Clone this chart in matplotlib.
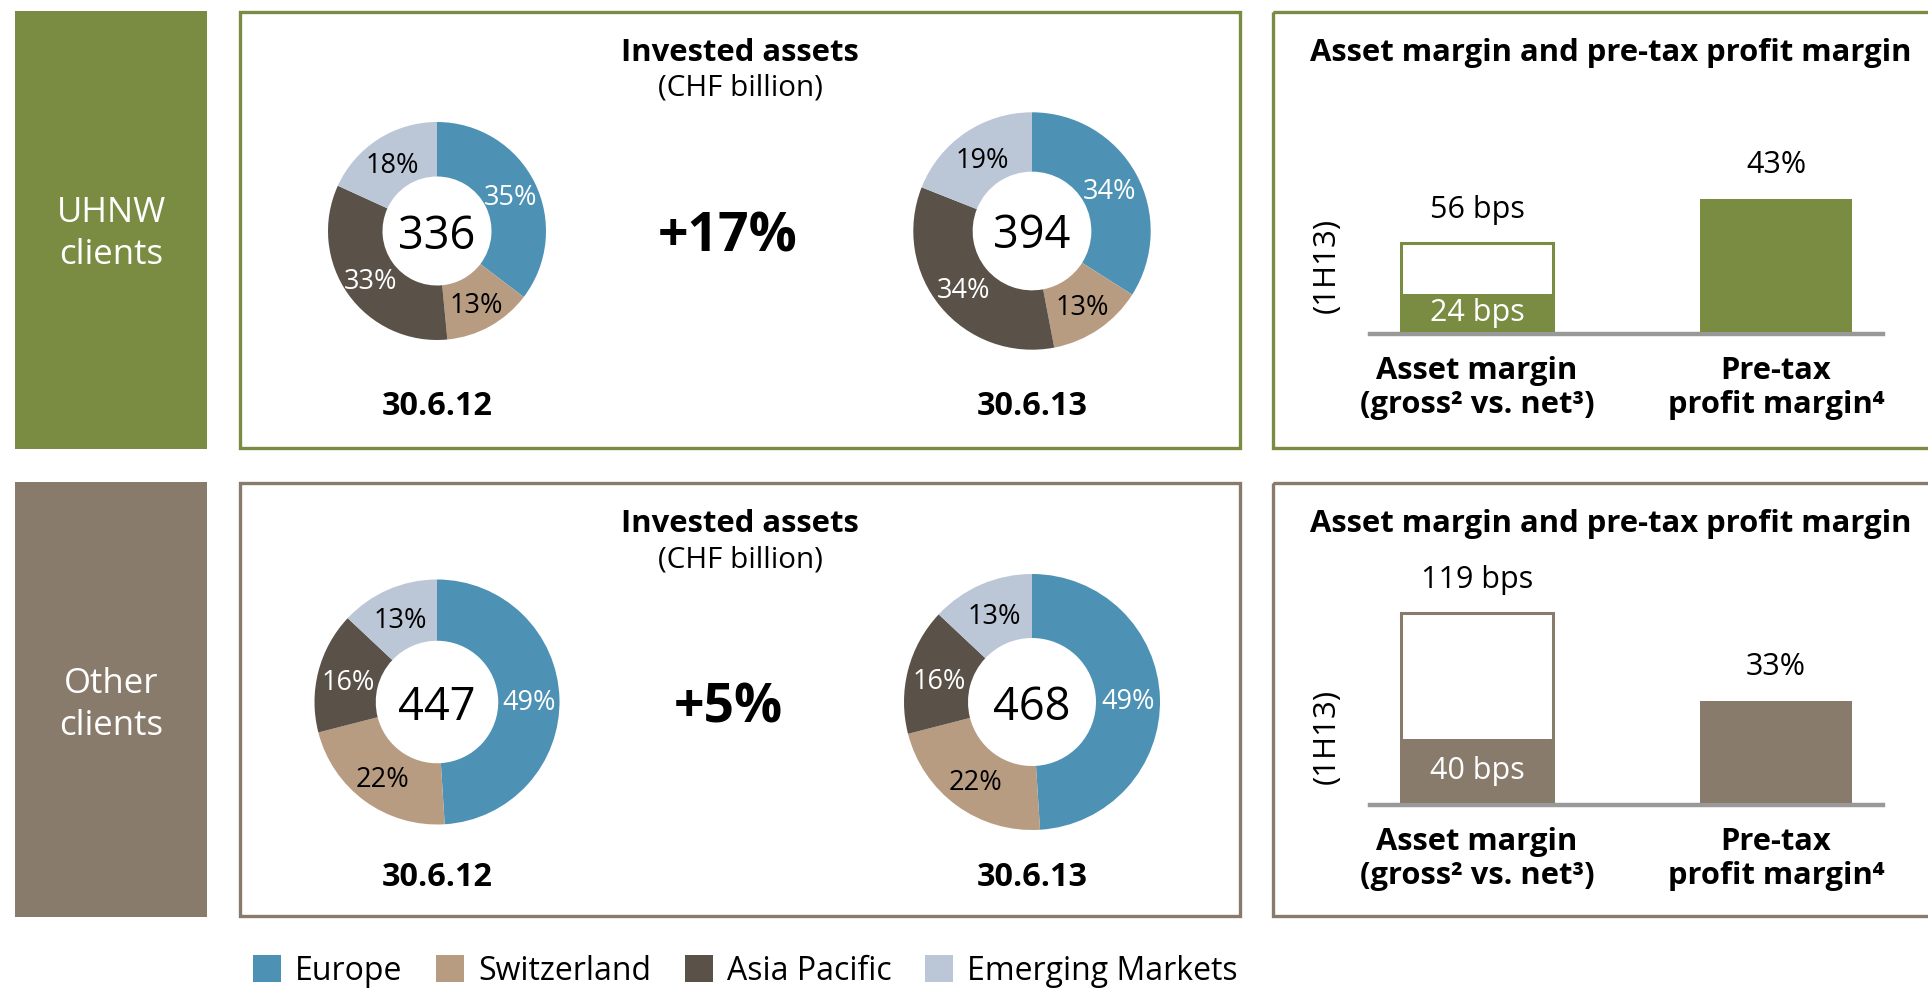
import matplotlib.pyplot as plt
from matplotlib.patches import Rectangle, Patch

plt.rcParams['font.family'] = ['Open Sans', 'DejaVu Sans']

# --- data -------------------------------------------------------------
regions = ['Europe', 'Switzerland', 'Asia Pacific', 'Emerging Markets']
segments = ['UHNW\nclients', 'Other\nclients']
dates = ['30.6.12', '30.6.13']
invested_totals = [[336, 394], [447, 468]]          # CHF billion
region_shares = [[[35, 13, 33, 18], [34, 13, 34, 19]],
                 [[49, 22, 16, 13], [49, 22, 16, 13]]]
growth = ['+17%', '+5%']
gross_margin_bps = [56, 119]
net_margin_bps = [24, 40]
pretax_margin_pct = [43, 33]
bar_labels = [['Asset margin', '(gross² vs. net³)'], ['Pre-tax', 'profit margin⁴']]
period = '(1H13)'

# --- style ------------------------------------------------------------
region_colors = ['#4d92b5', '#b89c82', '#5a5249', '#bbc6d6']
pct_colors = ['white', 'black', 'white', 'black']
segment_colors = ['#7a8c42', '#897b6c']
W, H = 1928, 988

fig = plt.figure(figsize=(W / 100, H / 100), dpi=100)
bg = fig.add_axes([0, 0, 1, 1])
bg.set_xlim(0, W)
bg.set_ylim(H, 0)
bg.axis('off')


def px_axes(x0, y0, w, h):
    # pixel box with top-left origin -> figure axes
    return fig.add_axes([x0 / W, 1 - (y0 + h) / H, w / W, h / H])


row_top = [12, 483]
row_bottom = [448, 916]
donut_x = [437, 1032]
donut_r = [[109, 118.7], [122.5, 128]]

for i, seg in enumerate(segments):
    y0, y1 = row_top[i], row_bottom[i]
    c = segment_colors[i]

    # segment label box
    bg.add_patch(Rectangle((15, y0 - 1), 192, y1 - y0 + 2, facecolor=c, edgecolor='none'))
    l1, l2 = seg.split('\n')
    bg.text(111, y0 + 210, l1, ha='center', va='baseline', fontsize=25, color='white')
    bg.text(111, y0 + 252, l2, ha='center', va='baseline', fontsize=25, color='white')

    # panel frames
    bg.add_patch(Rectangle((240, y0), 1000, y1 - y0, fill=False, edgecolor=c, lw=2.4))
    bg.add_patch(Rectangle((1273, y0), 700, y1 - y0, fill=False, edgecolor=c, lw=2.4))

    # invested assets donuts
    bg.text(740, y0 + 49, 'Invested assets', ha='center', va='baseline', fontsize=22.3, fontweight='bold')
    bg.text(740, y0 + 84, '(CHF billion)', ha='center', va='baseline', fontsize=21.3)
    bg.text(728, y0 + 219, growth[i], ha='center', va='center_baseline', fontsize=38.5, fontweight='bold')
    for j in range(2):
        r = donut_r[i][j]
        cx, cy = donut_x[j], y0 + 219
        ax = px_axes(cx - r, cy - r, 2 * r, 2 * r)
        wedges, texts, autotexts = ax.pie(region_shares[i][j], colors=region_colors, startangle=90,
                                          counterclock=False, radius=1, autopct='%.0f%%', pctdistance=0.75,
                                          wedgeprops=dict(width=0.5, linewidth=0),
                                          textprops=dict(fontsize=19.5))
        for t, col in zip(autotexts, pct_colors):
            t.set_color(col)
            t.set_va('center_baseline')
        ax.text(0, 0, str(invested_totals[i][j]), ha='center', va='center_baseline', fontsize=32.5)
        ax.set_xlim(-1, 1)
        ax.set_ylim(-1, 1)
        ax.set_aspect('equal')
        bg.text(cx, y0 + 403, dates[j], ha='center', va='baseline', fontsize=23.3, fontweight='bold')

    # margins bar chart
    bg.text(1611, y0 + 49, 'Asset margin and pre-tax profit margin', ha='center', va='baseline',
            fontsize=22.3, fontweight='bold')
    yb = y0 + 320
    bg.text(1327, yb - 67, period, ha='center', va='center', rotation=90, fontsize=22.5)
    ax = px_axes(1370, yb - 230, 513, 230)
    ax.set_xlim(-0.358, 1.358)
    ax.set_ylim(0, 144.1)
    ax.bar(0, gross_margin_bps[i], width=0.51, facecolor='white', edgecolor=c, linewidth=2.2, zorder=2)
    ax.bar(0, net_margin_bps[i], width=0.51, color=c, linewidth=0, zorder=3)
    ax.annotate(f'{gross_margin_bps[i]} bps', xy=(0, gross_margin_bps[i]), xytext=(0, 18),
                textcoords='offset points', ha='center', va='baseline', fontsize=22)
    ax.text(0, net_margin_bps[i] / 2, f'{net_margin_bps[i]} bps', ha='center', va='center',
            fontsize=22, color='white', zorder=4)
    ax2 = ax.twinx()
    ax2.set_ylim(0, 74.4)
    ax2.bar(1, pretax_margin_pct[i], width=0.51, color=c, linewidth=0)
    ax2.annotate(f'{pretax_margin_pct[i]}%', xy=(1, pretax_margin_pct[i]), xytext=(0, 18.5),
                 textcoords='offset points', ha='center', va='baseline', fontsize=22)
    for k, (a, b) in enumerate(bar_labels):
        ax.annotate(a, xy=(k, 0), xycoords=('data', 'axes fraction'), xytext=(0, -34),
                    textcoords='offset points', ha='center', va='baseline', fontsize=22.2, fontweight='bold')
        ax.annotate(b, xy=(k, 0), xycoords=('data', 'axes fraction'), xytext=(0, -58.5),
                    textcoords='offset points', ha='center', va='baseline', fontsize=22.2, fontweight='bold')
    ax.set_xticks([])
    ax.set_yticks([])
    ax2.set_yticks([])
    ax.patch.set_visible(False)
    for s in ['left', 'right', 'top']:
        ax.spines[s].set_visible(False)
    for s in ax2.spines.values():
        s.set_visible(False)
    ax.spines['bottom'].set_color('#999999')
    ax.spines['bottom'].set_linewidth(3.2)
    ax.spines['bottom'].set_position(('outward', 1.6))

fig.legend(handles=[Patch(facecolor=c) for c in region_colors], labels=regions, ncol=4,
           loc='center left', bbox_to_anchor=(253 / W, 1 - 971 / H), frameon=False, fontsize=23,
           handlelength=0.88, handleheight=0.88, handletextpad=0.44, columnspacing=1.05,
           borderpad=0, borderaxespad=0)

fig.savefig('out.png', dpi=100)
